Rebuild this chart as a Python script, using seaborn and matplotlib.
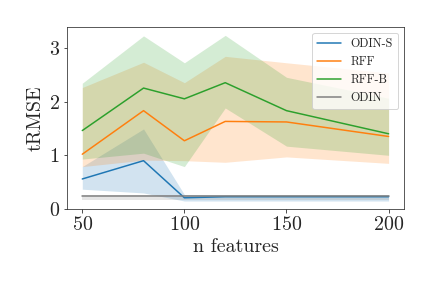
import seaborn as sns
import matplotlib.pyplot as plt
import pandas as pd

# Data
n_features = [50, 80, 100, 120, 150, 200]

odin_s = [0.56, 0.90, 0.21, 0.23, 0.23, 0.23]
odin_s_lo = [0.37, 0.30, 0.15, 0.15, 0.15, 0.15]
odin_s_hi = [0.79, 1.49, 0.27, 0.27, 0.27, 0.27]

rff = [1.02, 1.83, 1.27, 1.63, 1.62, 1.35]
rff_lo = [0.79, 0.91, 0.90, 0.87, 0.97, 0.85]
rff_hi = [2.26, 2.73, 2.35, 2.84, 2.72, 2.53]

rff_b = [1.46, 2.25, 2.05, 2.35, 1.83, 1.40]
rff_b_lo = [0.93, 1.04, 0.79, 1.88, 1.17, 1.00]
rff_b_hi = [2.34, 3.22, 2.72, 3.23, 2.45, 2.06]

odin = [0.25, 0.25, 0.25, 0.25, 0.25, 0.25]
odin_lo = [0.17, 0.17, 0.17, 0.17, 0.17, 0.17]
odin_hi = [0.27, 0.27, 0.27, 0.27, 0.27, 0.27]

methods = ["ODIN-S", "RFF", "RFF-B", "ODIN"]
colors = ["tab:blue", "tab:orange", "tab:green", "tab:gray"]
means = [odin_s, rff, rff_b, odin]
lows = [odin_s_lo, rff_lo, rff_b_lo, odin_lo]
highs = [odin_s_hi, rff_hi, rff_b_hi, odin_hi]

df = pd.concat(
    [pd.DataFrame({"n features": n_features, "tRMSE": m, "method": name})
     for name, m in zip(methods, means)],
    ignore_index=True,
)

sns.set_style("ticks")
plt.rcParams["font.family"] = "serif"
plt.rcParams["font.serif"] = ["cmr10", "DejaVu Serif"]
plt.rcParams["mathtext.fontset"] = "cm"
plt.rcParams["axes.unicode_minus"] = False
plt.rcParams["axes.formatter.use_mathtext"] = True

fig, ax = plt.subplots(figsize=(6, 4), dpi=72)
fig.subplots_adjust(left=0.155, right=0.935, bottom=0.274, top=0.906)

sns.lineplot(data=df, x="n features", y="tRMSE", hue="method",
             hue_order=methods, palette=colors, ax=ax, linewidth=1.5)

for lo, hi, c in zip(lows, highs, colors):
    ax.fill_between(n_features, lo, hi, color=c, alpha=0.2, linewidth=0)

ax.set_ylim(bottom=0)
ax.set_xlabel("n features", fontsize=20)
ax.set_ylabel("tRMSE", fontsize=20)
ax.tick_params(labelsize=20)
for s in ax.spines.values():
    s.set_color("#333333")

leg = ax.legend(loc="upper right", fontsize=12, title=None)

plt.savefig("out.png", dpi=72)
